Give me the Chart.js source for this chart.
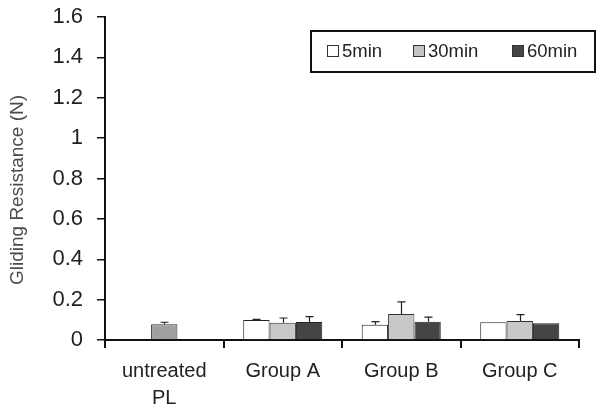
<!DOCTYPE html>
<html>
<head>
<meta charset="utf-8">
<script src="https://cdn.jsdelivr.net/npm/chart.js@4.4.0/dist/chart.umd.min.js"></script>
<style>
html,body{margin:0;padding:0;background:#fff;}
#wrap{position:relative;width:601px;height:409px;}
</style>
</head>
<body>
<div id="wrap"><canvas id="c" width="601" height="409"></canvas></div>
<script>
const categories = [["untreated","PL"], "Group A", "Group B", "Group C"];
const seriesNames = ["5min", "30min", "60min"];
const values5 = [null, 0.099, 0.075, 0.088];
const values30 = [0.078, 0.086, 0.129, 0.094];
const values60 = [null, 0.089, 0.091, 0.083];
const err5 = [null, 0.003, 0.016, 0];
const err30 = [0.010, 0.023, 0.060, 0.032];
const err60 = [null, 0.027, 0.022, 0];
const yTicks = [0, 0.2, 0.4, 0.6, 0.8, 1, 1.2, 1.4, 1.6];
const yTitle = 'Gliding Resistance (N)';

const errors = [err5, err30, err60];
const legendColors = ["#ffffff", "#c4c4c4", "#454545"];
const FONT = '"Liberation Sans", Arial, sans-serif';

const errorBarPlugin = {
  id: 'errbars',
  afterDatasetsDraw(chart) {
    const ctx = chart.ctx;
    const y = chart.scales.y;
    ctx.save();
    ctx.strokeStyle = '#222';
    ctx.lineWidth = 1.2;
    chart.data.datasets.forEach((ds, di) => {
      const meta = chart.getDatasetMeta(di);
      meta.data.forEach((bar, i) => {
        const v = ds.data[i], e = errors[di][i];
        if (v == null || !e) return;
        const x = Math.round(bar.x) + 0.5;
        const yTop = y.getPixelForValue(v + e);
        const yBar = y.getPixelForValue(v);
        ctx.beginPath();
        ctx.moveTo(x, yBar); ctx.lineTo(x, yTop);
        ctx.moveTo(x - 4, yTop); ctx.lineTo(x + 4, yTop);
        ctx.stroke();
      });
    });
    ctx.restore();
  }
};

const legendPlugin = {
  id: 'boxlegend',
  afterDraw(chart) {
    const ctx = chart.ctx;
    ctx.save();
    ctx.strokeStyle = '#111';
    ctx.lineWidth = 2;
    ctx.strokeRect(311, 31, 284, 41);
    ctx.font = '18.5px ' + FONT;
    ctx.textBaseline = 'middle';
    const xs = [327, 413, 512];
    seriesNames.forEach((name, i) => {
      ctx.fillStyle = legendColors[i];
      ctx.fillRect(xs[i], 45, 12, 12);
      ctx.strokeStyle = '#333';
      ctx.lineWidth = 1;
      ctx.strokeRect(xs[i] + 0.5, 45.5, 11, 11);
      ctx.fillStyle = '#222';
      ctx.fillText(name, xs[i] + 15, 52);
    });
    ctx.translate(18, 190);
    ctx.rotate(-Math.PI / 2);
    ctx.textAlign = 'center';
    ctx.font = '19px ' + FONT;
    ctx.fillStyle = '#4a4a4a';
    ctx.fillText(yTitle, 0, 0);
    ctx.restore();
  }
};

new Chart(document.getElementById('c'), {
  type: 'bar',
  data: {
    labels: categories,
    datasets: [
      { label: seriesNames[0], data: values5, backgroundColor: '#ffffff', borderColor: '#222', borderWidth: 1 },
      { label: seriesNames[1], data: values30, backgroundColor: ['#a0a0a0', '#c8c8c8', '#c8c8c8', '#c8c8c8'], borderColor: '#333', borderWidth: 1 },
      { label: seriesNames[2], data: values60, backgroundColor: '#454545', borderColor: '#222', borderWidth: 1 }
    ]
  },
  options: {
    responsive: false,
    animation: false,
    events: [],
    layout: { padding: { left: 0, right: 22, top: 17, bottom: 0 } },
    plugins: { legend: { display: false }, tooltip: { enabled: false } },
    datasets: { bar: { categoryPercentage: 0.667, barPercentage: 1.0 } },
    scales: {
      x: {
        grid: { display: true, drawOnChartArea: false, drawTicks: true, tickLength: 8, color: '#111', lineWidth: 2, offset: true },
        border: { display: true, color: '#111', width: 2 },
        ticks: { color: '#222', font: { family: FONT, size: 20, lineHeight: 1.35 }, padding: 10, maxRotation: 0, autoSkip: false },
        afterFit(s) { s.height = 69; s.paddingLeft = 0; s.paddingRight = 0; }
      },
      y: {
        min: 0, max: 1.6,
        afterBuildTicks(s) { s.ticks = yTicks.map(v => ({ value: v })); },
        grid: { display: true, drawOnChartArea: false, drawTicks: true, tickLength: 8, color: '#111', lineWidth: 1.5 },
        border: { display: true, color: '#111', width: 2 },
        ticks: { color: '#222', font: { family: FONT, size: 22 }, padding: 14, callback: v => String(v) },
        afterFit(s) { s.width = 105; s.paddingTop = 0; s.paddingBottom = 0; }
      }
    }
  },
  plugins: [errorBarPlugin, legendPlugin]
});
</script>
</body>
</html>
